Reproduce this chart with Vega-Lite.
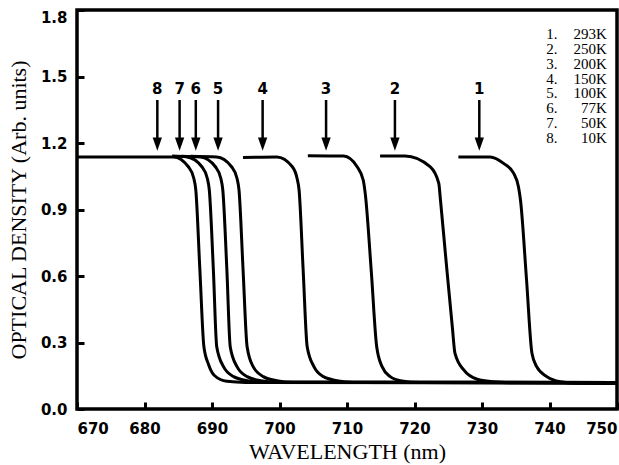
{
  "$schema": "https://vega.github.io/schema/vega-lite/v6.json",
  "width": 540,
  "height": 399,
  "autosize": "none",
  "padding": {"left": 77, "top": 10, "right": 2, "bottom": 56},
  "background": "white",
  "config": {
    "view": {"stroke": "black", "strokeWidth": 3.5},
    "axis": {
      "domain": false,
      "grid": false,
      "tickSize": -7,
      "tickWidth": 3,
      "tickColor": "black",
      "labelColor": "black",
      "labelFont": "DejaVu Sans",
      "labelFontWeight": "bold",
      "labelFontSize": 15,
      "titleColor": "black",
      "titleFont": "Liberation Serif",
      "titleFontWeight": "normal"
    }
  },
  "datasets": {
    "curves": [
      {"curve": "1", "wl": 726.5, "od": 1.137},
      {"curve": "1", "wl": 731.2, "od": 1.137},
      {"curve": "1", "wl": 733.2, "od": 1.108},
      {"curve": "1", "wl": 734.7, "od": 1.063},
      {"curve": "1", "wl": 735.4, "od": 1.003},
      {"curve": "1", "wl": 735.7, "od": 0.943},
      {"curve": "1", "wl": 736.6, "od": 0.582},
      {"curve": "1", "wl": 737.4, "od": 0.251},
      {"curve": "1", "wl": 738.1, "od": 0.191},
      {"curve": "1", "wl": 739.6, "od": 0.146},
      {"curve": "1", "wl": 741.6, "od": 0.123},
      {"curve": "1", "wl": 744.1, "od": 0.116},
      {"curve": "1", "wl": 750.0, "od": 0.115},

      {"curve": "2", "wl": 714.9, "od": 1.141},
      {"curve": "2", "wl": 718.6, "od": 1.141},
      {"curve": "2", "wl": 722.3, "od": 1.093},
      {"curve": "2", "wl": 723.6, "od": 1.018},
      {"curve": "2", "wl": 723.8, "od": 0.958},
      {"curve": "2", "wl": 724.7, "od": 0.66},
      {"curve": "2", "wl": 725.6, "od": 0.371},
      {"curve": "2", "wl": 726.0, "od": 0.251},
      {"curve": "2", "wl": 727.3, "od": 0.176},
      {"curve": "2", "wl": 729.3, "od": 0.134},
      {"curve": "2", "wl": 731.7, "od": 0.123},
      {"curve": "2", "wl": 735.0, "od": 0.118},
      {"curve": "2", "wl": 750.0, "od": 0.116},

      {"curve": "3", "wl": 704.2, "od": 1.143},
      {"curve": "3", "wl": 709.5, "od": 1.141},
      {"curve": "3", "wl": 711.5, "od": 1.093},
      {"curve": "3", "wl": 712.4, "od": 1.033},
      {"curve": "3", "wl": 712.7, "od": 0.973},
      {"curve": "3", "wl": 713.6, "od": 0.62},
      {"curve": "3", "wl": 714.4, "od": 0.281},
      {"curve": "3", "wl": 715.2, "od": 0.191},
      {"curve": "3", "wl": 716.4, "od": 0.146},
      {"curve": "3", "wl": 717.9, "od": 0.128},
      {"curve": "3", "wl": 720.9, "od": 0.119},
      {"curve": "3", "wl": 750.0, "od": 0.117},

      {"curve": "4", "wl": 694.6, "od": 1.135},
      {"curve": "4", "wl": 699.6, "od": 1.137},
      {"curve": "4", "wl": 701.9, "od": 1.093},
      {"curve": "4", "wl": 702.6, "od": 1.041},
      {"curve": "4", "wl": 702.9, "od": 0.988},
      {"curve": "4", "wl": 703.5, "od": 0.63},
      {"curve": "4", "wl": 704.1, "od": 0.281},
      {"curve": "4", "wl": 705.1, "od": 0.191},
      {"curve": "4", "wl": 706.5, "od": 0.146},
      {"curve": "4", "wl": 708.5, "od": 0.128},
      {"curve": "4", "wl": 711.0, "od": 0.12},
      {"curve": "4", "wl": 750.0, "od": 0.118},

      {"curve": "5", "wl": 686.8, "od": 1.14},
      {"curve": "5", "wl": 690.7, "od": 1.137},
      {"curve": "5", "wl": 692.9, "od": 1.093},
      {"curve": "5", "wl": 693.7, "od": 1.041},
      {"curve": "5", "wl": 694.0, "od": 0.988},
      {"curve": "5", "wl": 694.6, "od": 0.63},
      {"curve": "5", "wl": 695.2, "od": 0.281},
      {"curve": "5", "wl": 696.1, "od": 0.191},
      {"curve": "5", "wl": 697.6, "od": 0.146},
      {"curve": "5", "wl": 699.6, "od": 0.128},
      {"curve": "5", "wl": 702.0, "od": 0.121},
      {"curve": "5", "wl": 750.0, "od": 0.119},

      {"curve": "6", "wl": 685.5, "od": 1.14},
      {"curve": "6", "wl": 688.3, "od": 1.137},
      {"curve": "6", "wl": 690.5, "od": 1.093},
      {"curve": "6", "wl": 691.3, "od": 1.041},
      {"curve": "6", "wl": 691.6, "od": 0.988},
      {"curve": "6", "wl": 692.2, "od": 0.63},
      {"curve": "6", "wl": 692.7, "od": 0.281},
      {"curve": "6", "wl": 693.7, "od": 0.191},
      {"curve": "6", "wl": 695.2, "od": 0.146},
      {"curve": "6", "wl": 697.2, "od": 0.128},
      {"curve": "6", "wl": 700.0, "od": 0.121},
      {"curve": "6", "wl": 750.0, "od": 0.12},

      {"curve": "7", "wl": 684.1, "od": 1.141},
      {"curve": "7", "wl": 686.3, "od": 1.137},
      {"curve": "7", "wl": 688.5, "od": 1.093},
      {"curve": "7", "wl": 689.3, "od": 1.041},
      {"curve": "7", "wl": 689.6, "od": 0.988},
      {"curve": "7", "wl": 690.2, "od": 0.63},
      {"curve": "7", "wl": 690.7, "od": 0.281},
      {"curve": "7", "wl": 691.7, "od": 0.191},
      {"curve": "7", "wl": 693.2, "od": 0.146},
      {"curve": "7", "wl": 695.2, "od": 0.128},
      {"curve": "7", "wl": 698.0, "od": 0.121},
      {"curve": "7", "wl": 750.0, "od": 0.12},

      {"curve": "8", "wl": 670.0, "od": 1.137},
      {"curve": "8", "wl": 684.3, "od": 1.137},
      {"curve": "8", "wl": 686.5, "od": 1.093},
      {"curve": "8", "wl": 687.3, "od": 1.041},
      {"curve": "8", "wl": 687.6, "od": 0.988},
      {"curve": "8", "wl": 688.2, "od": 0.63},
      {"curve": "8", "wl": 688.8, "od": 0.281},
      {"curve": "8", "wl": 689.5, "od": 0.2},
      {"curve": "8", "wl": 690.4, "od": 0.15},
      {"curve": "8", "wl": 692.2, "od": 0.125},
      {"curve": "8", "wl": 695.0, "od": 0.12},
      {"curve": "8", "wl": 750.0, "od": 0.118}
    ],
    "arrows": [
      {"n": "8", "wl": 681.9},
      {"n": "7", "wl": 685.2},
      {"n": "6", "wl": 687.6},
      {"n": "5", "wl": 690.9},
      {"n": "4", "wl": 697.5},
      {"n": "3", "wl": 706.9},
      {"n": "2", "wl": 717.1},
      {"n": "1", "wl": 729.6}
    ]
  },
  "layer": [
    {
      "data": {"name": "curves"},
      "mark": {"type": "line", "interpolate": "monotone", "color": "black", "strokeWidth": 3},
      "encoding": {
        "x": {
          "field": "wl", "type": "quantitative",
          "scale": {"domain": [670, 750], "nice": false, "zero": false},
          "axis": {
            "title": "WAVELENGTH (nm)",
            "values": [670, 680, 690, 700, 710, 720, 730, 740, 750],
            "labelFlush": true,
            "labelPadding": 19,
            "titleFontSize": 22,
            "titlePadding": 5
          }
        },
        "y": {
          "field": "od", "type": "quantitative",
          "scale": {"domain": [0, 1.8], "nice": false},
          "axis": {
            "title": "OPTICAL DENSITY (Arb. units)",
            "values": [0, 0.3, 0.6, 0.9, 1.2, 1.5, 1.8],
            "format": ".1f",
            "labelPadding": 17,
            "labelBaseline": {"condition": {"test": "datum.value > 1.7", "value": "top"}, "value": "middle"},
            "titleFontSize": 22,
            "titlePadding": 10
          }
        },
        "detail": {"field": "curve"}
      }
    },
    {
      "data": {"name": "arrows"},
      "mark": {"type": "rule", "color": "black", "strokeWidth": 2.5},
      "encoding": {
        "x": {"field": "wl", "type": "quantitative"},
        "y": {"datum": 1.394},
        "y2": {"datum": 1.22}
      }
    },
    {
      "data": {"name": "arrows"},
      "mark": {"type": "point", "shape": "M-1,-1.44L1,-1.44L0,1.44Z", "filled": true, "color": "black", "opacity": 1, "size": 87},
      "encoding": {
        "x": {"field": "wl", "type": "quantitative"},
        "y": {"datum": 1.195}
      }
    },
    {
      "data": {"name": "arrows"},
      "mark": {"type": "text", "font": "DejaVu Sans", "fontWeight": "bold", "fontSize": 15, "color": "black", "baseline": "middle", "align": "center"},
      "encoding": {
        "x": {"field": "wl", "type": "quantitative"},
        "y": {"datum": 1.445},
        "text": {"field": "n"}
      }
    },
    {
      "data": {"values": [{}]},
      "mark": {
        "type": "text", "font": "Liberation Serif", "fontSize": 15, "color": "black",
        "align": "left", "baseline": "alphabetic", "lineHeight": 14.8,
        "text": ["1.", "2.", "3.", "4.", "5.", "6.", "7.", "8."]
      },
      "encoding": {
        "x": {"datum": 739.5},
        "y": {"datum": 1.668}
      }
    },
    {
      "data": {"values": [{}]},
      "mark": {
        "type": "text", "font": "Liberation Serif", "fontSize": 15, "color": "black",
        "align": "right", "baseline": "alphabetic", "lineHeight": 14.8,
        "text": ["293K", "250K", "200K", "150K", "100K", "77K", "50K", "10K"]
      },
      "encoding": {
        "x": {"datum": 748.5},
        "y": {"datum": 1.668}
      }
    }
  ]
}
